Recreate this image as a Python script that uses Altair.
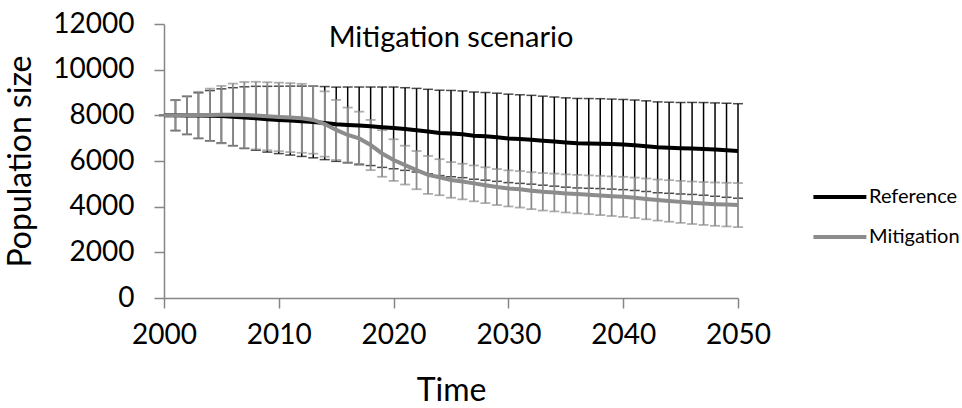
import altair as alt
import pandas as pd

years = list(range(2000, 2051))

ref_mean = [8000, 8000, 7995, 7990, 7985, 7975, 7940, 7900, 7870, 7830,
            7800, 7770, 7740, 7710, 7660, 7610, 7580, 7550, 7520, 7480,
            7450, 7400, 7350, 7290, 7230, 7200, 7170, 7110, 7080, 7040,
            6990, 6960, 6930, 6890, 6850, 6810, 6780, 6770, 6760, 6740,
            6720, 6690, 6650, 6600, 6580, 6560, 6550, 6530, 6500, 6470,
            6440]
ref_err = [0, 670, 830, 1000, 1100, 1185, 1270, 1350, 1400, 1440,
           1476, 1510, 1540, 1570, 1600, 1626, 1660, 1690, 1720, 1760,
           1790, 1810, 1830, 1850, 1870, 1890, 1900, 1910, 1920, 1930,
           1937, 1940, 1945, 1950, 1953, 1956, 1960, 1965, 1968, 1972,
           1975, 1980, 1985, 1990, 1995, 2000, 2015, 2030, 2045, 2060,
           2070]
mit_mean = [8000, 8000, 8005, 8010, 8020, 8030, 8030, 8010, 7990, 7960,
            7930, 7900, 7870, 7800, 7620, 7360, 7140, 6990, 6700, 6330,
            6040, 5820, 5600, 5390, 5290, 5170, 5100, 5020, 4940, 4860,
            4800, 4760, 4700, 4650, 4620, 4580, 4550, 4520, 4490, 4460,
            4430, 4390, 4340, 4290, 4250, 4210, 4170, 4140, 4110, 4090,
            4070]
mit_err = [0, 660, 840, 1020, 1150, 1260, 1360, 1450, 1480, 1490,
           1500, 1510, 1510, 1480, 1430, 1315, 1200, 1170, 1100, 1020,
           912, 850, 837, 830, 790, 780, 780, 785, 785, 788,
           790, 800, 810, 820, 828, 835, 843, 850, 860, 868,
           877, 885, 893, 900, 910, 920, 930, 940, 948, 956,
           965]

series_names = ["Reference", "Mitigation"]
series_colors = ["#000000", "#8c8c8c"]
x_ticks = [2000, 2010, 2020, 2030, 2040, 2050]
y_ticks = [0, 2000, 4000, 6000, 8000, 10000, 12000]
chart_title = "Mitigation scenario"

rows = []
for name, means, errs in [("Reference", ref_mean, ref_err), ("Mitigation", mit_mean, mit_err)]:
    for yr, m, e in zip(years, means, errs):
        rows.append({"year": yr, "series": name, "mean": m, "lo": m - e, "hi": m + e})
df = pd.DataFrame(rows)

FONT = "Lato"
x_enc = alt.X("year:Q", scale=alt.Scale(domain=[2000, 2050], nice=False),
              axis=alt.Axis(values=x_ticks, format="d", title="Time"))
y_scale = alt.Scale(domain=[0, 12000], nice=False)
y_axis = alt.Axis(values=y_ticks, format="d", title="Population size")

base = alt.Chart(df)

def err_layers(name, col, width):
    sub = base.transform_filter(alt.datum.series == name)
    bars = sub.mark_rule(strokeWidth=width, color=col).encode(
        x=x_enc, y=alt.Y("lo:Q", scale=y_scale, axis=y_axis), y2="hi:Q")
    cap_hi = sub.mark_tick(orient="horizontal", size=10, thickness=width, color=col).encode(
        x=x_enc, y=alt.Y("hi:Q", scale=y_scale, axis=y_axis))
    cap_lo = sub.mark_tick(orient="horizontal", size=10, thickness=width, color=col).encode(
        x=x_enc, y=alt.Y("lo:Q", scale=y_scale, axis=y_axis))
    return [bars, cap_hi, cap_lo]

lines = base.mark_line(strokeWidth=4).encode(
    x=x_enc,
    y=alt.Y("mean:Q", scale=y_scale, axis=y_axis),
    color=alt.Color("series:N", scale=alt.Scale(domain=series_names, range=series_colors),
                    legend=alt.Legend(title=None, orient="none", legendX=647, legendY=160,
                                      symbolType="M-1,0H4", symbolSize=449,
                                      symbolStrokeWidth=4, labelOffset=32,
                                      labelFontSize=20, labelFont=FONT, labelColor="#000000",
                                      labelLimit=200, rowPadding=17)),
    detail="series:N",
)

title_mark = alt.Chart(pd.DataFrame({"t": [chart_title]})).mark_text(
    font=FONT, fontSize=29, color="#000000", align="center", baseline="alphabetic"
).encode(text="t:N", x=alt.value(287), y=alt.value(23))

chart = alt.layer(
    *err_layers("Reference", series_colors[0], 1.5),
    *err_layers("Mitigation", series_colors[1], 1.8),
    lines,
    title_mark,
).properties(
    width=574,
    height=274,
    padding={"left": 164, "top": 24, "right": 224, "bottom": 110},
    autosize=alt.AutoSizeParams(type="none"),
).configure_view(stroke=None).configure_axis(
    grid=False,
    labelFlush=False,
    domainColor="#868686",
    domainWidth=1.5,
    tickColor="#868686",
    tickWidth=1.5,
    tickSize=10,
    labelFont=FONT,
    labelFontSize=28,
    labelColor="#000000",
    titleFont=FONT,
    titleFontSize=32,
    titleFontWeight="normal",
    titleColor="#000000",
).configure_axisY(labelPadding=20, titlePadding=15).configure_axisX(
    labelPadding=13, titlePadding=26
).configure_legend(labelFontSize=20, labelFont=FONT)

chart.save("out.html", embed_options={"renderer": "svg", "actions": False})
